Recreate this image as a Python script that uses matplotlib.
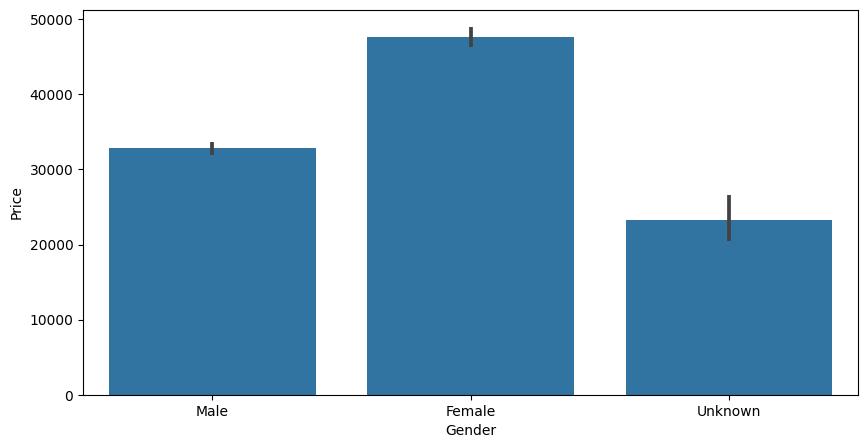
import matplotlib
matplotlib.use("Agg")
import matplotlib.pyplot as plt
import numpy as np

genders = ["Male", "Female", "Unknown"]
mean_price = [32850, 47600, 23270]
ci_low = [31900, 46300, 20500]
ci_high = [33600, 48900, 26600]

fig = plt.figure(figsize=(8.68, 4.48), dpi=100)
ax = fig.add_axes([0.0956, 0.1183, 0.893, 0.8594])

x = np.arange(len(genders))
ax.bar(x, mean_price, width=0.8, color="#3274a1")
for xi, lo, hi in zip(x, ci_low, ci_high):
    ax.plot([xi, xi], [lo, hi], color=".26", linewidth=2.7, solid_capstyle="butt")

ax.set_xticks(x)
ax.set_xticklabels(genders)
ax.set_xlim(-0.5, 2.5)
ax.set_ylim(0, 51200)
ax.set_yticks([0, 10000, 20000, 30000, 40000, 50000])
ax.set_xlabel("Gender")
ax.set_ylabel("Price")

fig.savefig("out.png", dpi=100)
